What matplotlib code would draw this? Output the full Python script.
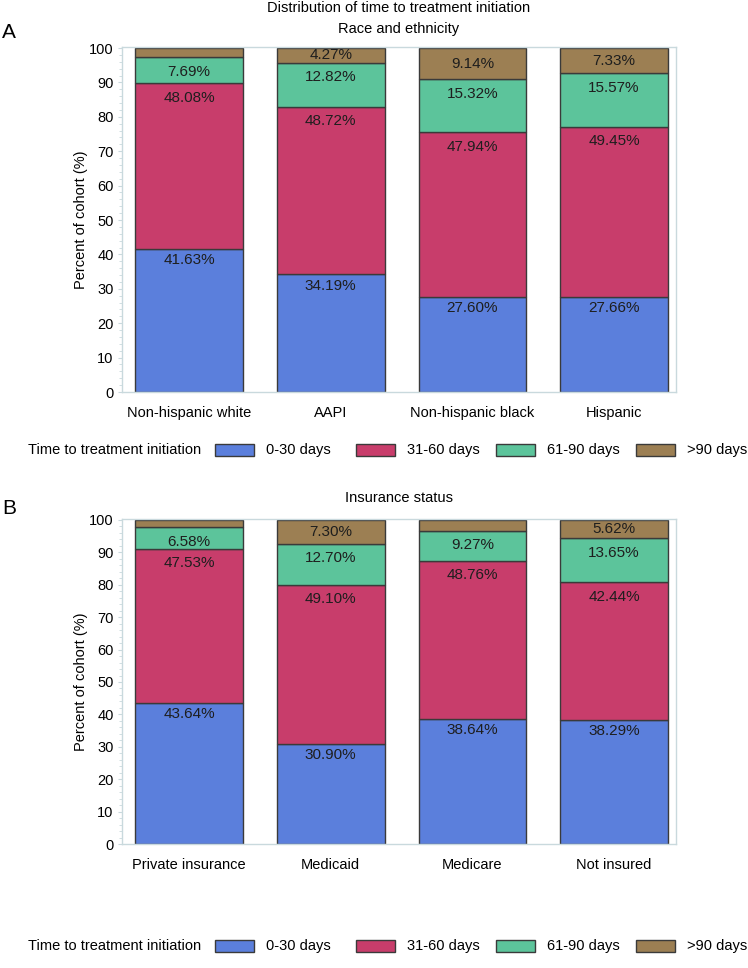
import matplotlib
matplotlib.use("Agg")
import matplotlib.pyplot as plt
from matplotlib.patches import Rectangle
from matplotlib.ticker import MultipleLocator

plt.rcParams['font.family'] = ['Liberation Sans', 'DejaVu Sans']

series = ["0-30 days", "31-60 days", "61-90 days", ">90 days"]
colors = ["#5b7fdc", "#c83d6b", "#5cc49b", "#9c7f53"]

race_cats = ["Non-hispanic white", "AAPI", "Non-hispanic black", "Hispanic"]
race_0_30 = [41.63, 34.19, 27.60, 27.66]
race_31_60 = [48.08, 48.72, 47.94, 49.45]
race_61_90 = [7.69, 12.82, 15.32, 15.57]
race_gt90 = [2.60, 4.27, 9.14, 7.33]
race_show_gt90 = [False, True, True, True]

ins_cats = ["Private insurance", "Medicaid", "Medicare", "Not insured"]
ins_0_30 = [43.64, 30.90, 38.64, 38.29]
ins_31_60 = [47.53, 49.10, 48.76, 42.44]
ins_61_90 = [6.58, 12.70, 9.27, 13.65]
ins_gt90 = [2.25, 7.30, 3.33, 5.62]
ins_show_gt90 = [False, True, False, True]

W, H = 748, 968
fig = plt.figure(figsize=(W / 100, H / 100), dpi=100)

frame_col = "#c9d9dd"
edge_col = "#3a3a3a"
FS = 10.5
label_offsets = [-3, -5.5, -5.5]


def px_axes(left, top, right, bottom):
    return fig.add_axes([left / W, 1 - bottom / H, (right - left) / W, (bottom - top) / H])


def draw_panel(ax, cats, s1, s2, s3, s4, show4):
    x = list(range(len(cats)))
    bottoms = [0.0] * len(cats)
    for vals, col, idx in zip([s1, s2, s3, s4], colors, range(4)):
        ax.bar(x, vals, bottom=bottoms, width=0.76, color=col,
               edgecolor=edge_col, linewidth=1.0, zorder=2)
        for i, v in enumerate(vals):
            top = bottoms[i] + v
            if idx == 3 and not show4[i]:
                continue
            if idx == 3:
                ypos = bottoms[i] + v / 2
                ax.text(x[i], ypos, f"{v:.2f}%", ha="center", va="center",
                        fontsize=11, color="#1e1e1e", zorder=3)
            else:
                ax.annotate(f"{v:.2f}%", (x[i], top), xytext=(0, label_offsets[idx]),
                            textcoords="offset points", ha="center", va="top",
                            fontsize=11, color="#1e1e1e", zorder=3)
        bottoms = [b + v for b, v in zip(bottoms, vals)]
    ax.set_xlim(-0.473, 3.437)
    ax.set_ylim(0, 100.3)
    ax.set_xticks(x)
    ax.set_xticklabels(cats, fontsize=FS)
    ax.set_yticks(range(0, 101, 10))
    ax.tick_params(axis="y", labelsize=FS, length=3, color=frame_col, pad=3)
    ax.tick_params(axis="x", length=0, pad=10)
    ax.yaxis.set_minor_locator(MultipleLocator(2))
    ax.tick_params(axis="y", which="minor", length=2, color=frame_col)
    for sp in ax.spines.values():
        sp.set_color(frame_col)
        sp.set_linewidth(1.0)
    ax.set_ylabel("Percent of cohort (%)", fontsize=FS, labelpad=1)


def draw_legend(ypix):
    fig.text(28 / W, 1 - ypix / H, "Time to treatment initiation", fontsize=FS,
             ha="left", va="center")
    starts = [215, 356, 496, 636]
    for sx, col, lab in zip(starts, colors, series):
        fig.patches.append(Rectangle((sx / W, 1 - (ypix + 6) / H), 39 / W, 12 / H,
                                     transform=fig.transFigure, facecolor=col,
                                     edgecolor=edge_col, linewidth=1.0))
        fig.text((sx + 51) / W, 1 - ypix / H, lab, fontsize=FS, ha="left", va="center")


axA = px_axes(122, 47, 676, 392)
draw_panel(axA, race_cats, race_0_30, race_31_60, race_61_90, race_gt90, race_show_gt90)
axB = px_axes(122, 519, 676, 844)
draw_panel(axB, ins_cats, ins_0_30, ins_31_60, ins_61_90, ins_gt90, ins_show_gt90)

fig.text(399 / W, 1 - 8 / H, "Distribution of time to treatment initiation",
         ha="center", va="center", fontsize=FS)
fig.text(399 / W, 1 - 29 / H, "Race and ethnicity", ha="center", va="center", fontsize=FS)
fig.text(399 / W, 1 - 498 / H, "Insurance status", ha="center", va="center", fontsize=FS)
fig.text(2 / W, 1 - 32 / H, "A", ha="left", va="center", fontsize=15)
fig.text(2 / W, 1 - 508 / H, "B", ha="left", va="center", fontsize=15)

draw_legend(450)
draw_legend(946)

fig.savefig("out.png", dpi=100)
